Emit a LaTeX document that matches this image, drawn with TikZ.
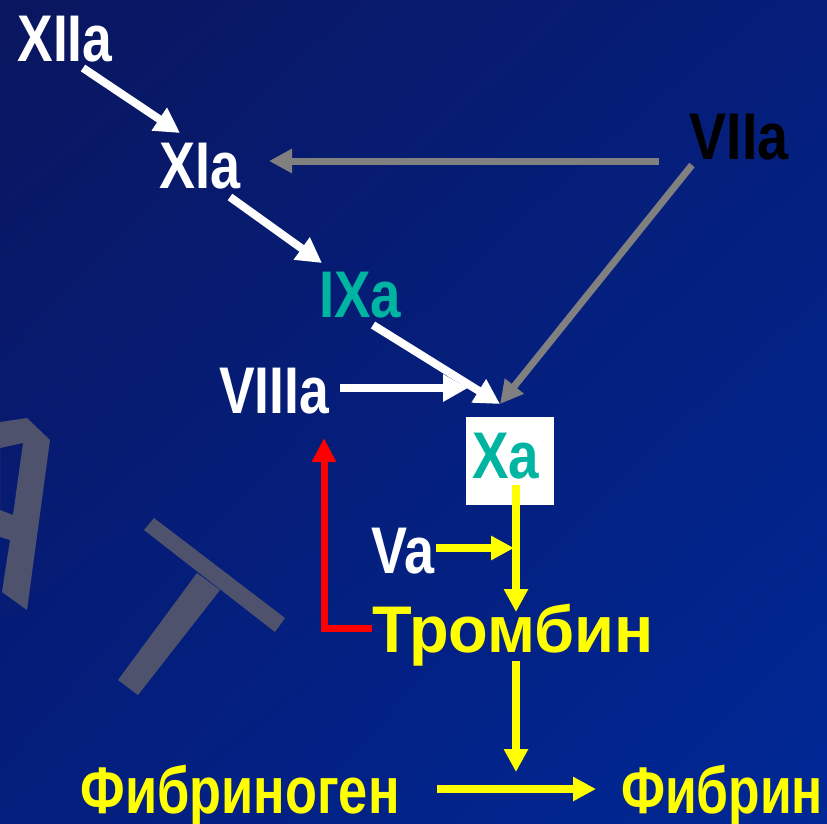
\documentclass[tikz,border=0pt]{standalone}
\usepackage{fontspec}
\usepackage{graphicx}
\setmainfont{Liberation Sans}
\usetikzlibrary{arrows.meta,shadings}
\definecolor{bgUL}{RGB}{10,22,95}
\definecolor{bgUR}{RGB}{5,30,122}
\definecolor{bgLL}{RGB}{4,30,125}
\definecolor{bgLR}{RGB}{0,40,150}
\definecolor{teal2}{RGB}{0,180,162}
\definecolor{ygold}{RGB}{255,255,0}
\definecolor{garr}{RGB}{128,128,128}
\definecolor{ghost}{RGB}{78,82,108}
\newcommand\fitlbl[2]{\resizebox{#1pt}{\height}{#2}}
\tikzset{
  lbl/.style={inner sep=0pt, anchor=base, font=\bfseries\fontsize{66}{66}\selectfont},
  warr/.style={draw=white, line width=8pt, -{Triangle[length=25pt,width=26pt]}},
  garrow/.style={draw=garr, line width=7pt, -{Triangle[length=23pt,width=23pt]}},
  yarr/.style={draw=ygold, line width=8pt, -{Triangle[length=23pt,width=23pt]}},
  rarr/.style={draw=red, line width=7pt, -{Triangle[length=24pt,width=23pt]}},
}
\begin{document}
\begin{tikzpicture}[x=1pt,y=-1pt]
\useasboundingbox (0,0) rectangle (827,823);
\shade[upper left=bgUL, upper right=bgUR, lower left=bgLL, lower right=bgLR] (0,0) rectangle (827,823);
% ghost letters A and T
\fill[ghost, even odd rule] (0,422) -- (27,418) -- (50,440) -- (27,610) -- (2,592) -- (10,540) -- (0,537) -- cycle
      (0,448) -- (23,443) -- (13,515) -- (0,510) -- cycle;
\fill[ghost] (144,530) -- (154,518) -- (285,618) -- (275,632) -- cycle;
\fill[ghost] (197,573) -- (220,590) -- (138,695) -- (118,680) -- cycle;
% labels
\node[lbl, white] (XIIa) at (65,61) {\fitlbl{95}{XIIa}};
\node[lbl, white] (XIa) at (200,188) {\fitlbl{81}{XIa}};
\node[lbl, black] (VIIa) at (739,159) {\fitlbl{99}{VIIa}};
\node[lbl, teal2] (IXa) at (360,317) {\fitlbl{82}{IXa}};
\node[lbl, white] (VIIIa) at (274,413) {\fitlbl{110}{VIIIa}};
\node[fill=white, inner sep=0pt, minimum width=88pt, minimum height=88pt] (Xbox) at (510,461) {};
\node[lbl, teal2] (Xa) at (505.5,478) {\fitlbl{67}{Xa}};
\node[lbl, white] (Va) at (403,573) {\fitlbl{63}{Va}};
\node[lbl, ygold] (Tromb) at (513,652) {\fitlbl{282}{Тромбин}};
\node[lbl, ygold] (Fibrinogen) at (240,813) {\fitlbl{319}{Фибриноген}};
\node[lbl, ygold] (Fibrin) at (722,813) {\fitlbl{202}{Фибрин}};
% connector end points
\coordinate (a1) at (83,68);   \coordinate (a2) at (180,133);
\coordinate (b1) at (230,197); \coordinate (b2) at (322,263);
\coordinate (c1) at (373,325); \coordinate (xin) at (500,404);
\coordinate (d1) at (340,388); \coordinate (d2) at (468,388);
\coordinate (g1) at (659,161); \coordinate (g2) at (269,161);
\coordinate (g3) at (692,165);
\coordinate (y1) at (516,485); \coordinate (y2) at (516,612);
\coordinate (v1) at (436,548); \coordinate (v2) at (514,548);
\coordinate (t1) at (516,661); \coordinate (t2) at (516,772);
\coordinate (f1) at (437,789); \coordinate (f2) at (596,789);
\coordinate (r1) at (372,628.5); \coordinate (r2) at (324,438);
% arrows
\draw[warr] (a1) -- (a2);
\draw[warr] (b1) -- (b2);
\draw[garrow] (g1) -- (g2);
\draw[garrow] (g3) -- (xin);
\draw[warr] (c1) -- (xin);
\draw[warr] (d1) -- (d2);
\draw[yarr] (y1) -- (y2);
\draw[yarr] (v1) -- (v2);
\draw[yarr] (t1) -- (t2);
\draw[yarr] (f1) -- (f2);
\draw[rarr] (r1) -| (r2);
\end{tikzpicture}
\end{document}
